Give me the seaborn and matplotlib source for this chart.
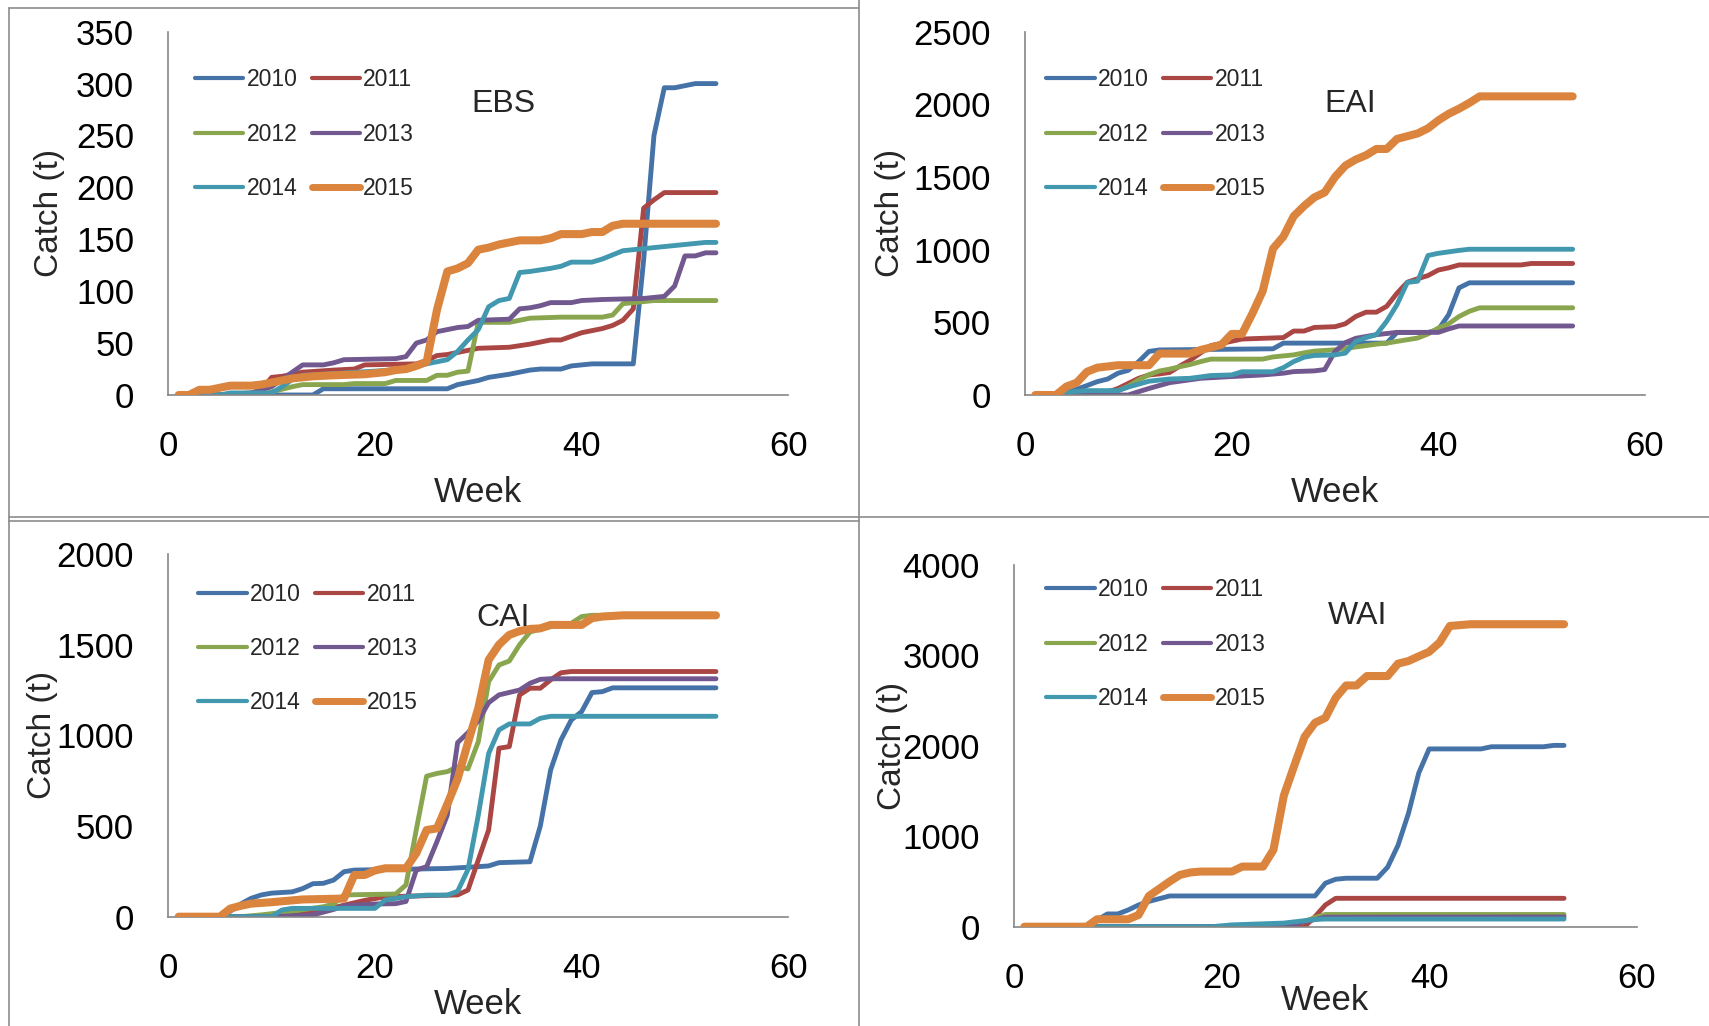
import matplotlib
matplotlib.use("Agg")
import matplotlib.pyplot as plt
import pandas as pd
import seaborn as sns
from matplotlib.lines import Line2D

# ---------------- data (week, cumulative catch in t) ----------------
YEARS = ["2010", "2011", "2012", "2013", "2014", "2015"]
COLORS = ["#4572A7", "#AA4643", "#89A54E", "#71588F", "#4198AF", "#DB843D"]

EBS_2010 = [(1, 0), (14, 0), (15, 6), (27, 6), (28, 10), (30, 14), (31, 17), (33, 20), (35, 24), (36, 25), (38, 25),
            (39, 28), (41, 30), (45, 30), (46, 130), (47, 250), (48, 296), (49, 296), (51, 300), (53, 300)]
EBS_2011 = [(1, 0), (8, 0), (9, 5), (10, 17), (11, 18), (13, 22), (16, 24), (18, 25), (19, 29), (24, 30), (25, 33),
            (26, 38), (27, 39), (28, 41), (30, 45), (33, 46), (35, 49), (37, 53), (38, 53), (40, 60), (42, 64),
            (43, 67), (44, 72), (45, 83), (46, 180), (47, 188), (48, 195), (53, 195)]
EBS_2012 = [(1, 0), (9, 0), (10, 3), (12, 8), (13, 10), (17, 10), (18, 11), (21, 11), (22, 14), (25, 14), (26, 19),
            (27, 19), (28, 22), (29, 23), (30, 70), (33, 70), (35, 74), (38, 75), (42, 75), (43, 77), (44, 88),
            (47, 91), (53, 91)]
EBS_2013 = [(1, 0), (5, 0), (8, 2), (10, 8), (11, 15), (12, 22), (13, 29), (15, 29), (16, 31), (17, 34), (22, 35),
            (23, 37), (24, 50), (25, 53), (26, 61), (27, 63), (28, 65), (29, 66), (30, 72), (33, 73), (34, 83),
            (35, 84), (36, 86), (37, 89), (39, 89), (40, 91), (42, 92), (46, 93), (48, 95), (49, 105), (50, 134),
            (51, 134), (52, 137), (53, 137)]
EBS_2014 = [(1, 0), (5, 0), (6, 2), (10, 2), (11, 8), (12, 15), (13, 19), (15, 20), (20, 23), (23, 25), (25, 30),
            (26, 32), (27, 34), (28, 42), (29, 53), (30, 63), (31, 85), (32, 91), (33, 93), (34, 118), (35, 119),
            (37, 122), (38, 124), (39, 128), (41, 128), (42, 131), (43, 135), (44, 139), (46, 141), (48, 143),
            (50, 145), (52, 147), (53, 147)]
EBS_2015 = [(1, 0), (2, 0), (3, 5), (4, 5), (5, 7), (6, 9), (8, 9), (9, 10), (10, 12), (11, 14), (12, 16), (14, 18),
            (16, 19), (19, 20), (21, 22), (22, 24), (23, 25), (24, 28), (25, 32), (26, 82), (27, 119), (28, 122),
            (29, 127), (30, 140), (31, 142), (32, 145), (33, 147), (34, 149), (36, 149), (37, 151), (38, 155),
            (40, 155), (41, 157), (42, 157), (43, 163), (44, 165), (53, 165)]

EAI_2010 = [(1, 0), (3, 0), (4, 15), (5, 39), (6, 65), (7, 92), (8, 110), (9, 150), (10, 170), (11, 230), (12, 300),
            (13, 310), (24, 318), (25, 357), (35, 357), (36, 430), (39, 430), (40, 450), (41, 553), (42, 737),
            (43, 772), (53, 772)]
EAI_2011 = [(1, 0), (7, 0), (8, 20), (9, 45), (10, 80), (11, 115), (12, 138), (13, 145), (14, 155), (15, 200),
            (16, 240), (17, 290), (18, 340), (19, 355), (20, 370), (21, 385), (25, 395), (26, 440), (27, 440),
            (28, 465), (30, 470), (31, 490), (32, 540), (33, 570), (34, 570), (35, 610), (36, 700), (37, 776),
            (38, 800), (39, 822), (40, 860), (41, 875), (42, 895), (48, 895), (49, 905), (53, 905)]
EAI_2012 = [(1, 0), (8, 0), (9, 30), (10, 60), (11, 104), (12, 140), (13, 165), (14, 178), (15, 195), (16, 210),
            (17, 230), (18, 247), (23, 247), (24, 262), (26, 276), (27, 290), (28, 302), (30, 311), (34, 350),
            (35, 357), (36, 369), (38, 392), (39, 420), (40, 461), (41, 490), (42, 540), (43, 576), (44, 600),
            (53, 600)]
EAI_2013 = [(1, 0), (10, 0), (11, 23), (12, 45), (13, 65), (14, 85), (15, 95), (17, 115), (20, 127), (23, 138),
            (25, 150), (26, 161), (28, 166), (29, 175), (30, 300), (31, 360), (32, 390), (34, 415), (36, 431),
            (40, 431), (41, 455), (42, 475), (53, 475)]
EAI_2014 = [(1, 0), (3, 0), (4, 16), (5, 25), (6, 30), (9, 30), (10, 55), (11, 75), (12, 95), (14, 110), (16, 115),
            (18, 134), (20, 138), (21, 160), (24, 160), (25, 188), (26, 230), (27, 260), (28, 272), (30, 276),
            (31, 288), (32, 368), (33, 395), (34, 415), (35, 507), (36, 622), (37, 775), (38, 783), (39, 960),
            (40, 975), (41, 985), (42, 995), (43, 1003), (53, 1003)]
EAI_2015 = [(1, 0), (3, 0), (4, 58), (5, 85), (6, 160), (7, 188), (9, 205), (12, 205), (13, 285), (16, 285),
            (17, 310), (19, 345), (20, 420), (21, 420), (22, 560), (23, 714), (24, 1007), (25, 1090), (26, 1230),
            (27, 1300), (28, 1360), (29, 1394), (30, 1500), (31, 1578), (32, 1620), (33, 1650), (34, 1693),
            (35, 1693), (36, 1762), (37, 1781), (38, 1800), (39, 1835), (40, 1890), (41, 1935), (42, 1970),
            (43, 2010), (44, 2055), (53, 2055)]

CAI_2010 = [(1, 0), (5, 0), (6, 30), (7, 70), (8, 101), (9, 120), (10, 130), (12, 137), (13, 155), (14, 182),
            (15, 184), (16, 202), (17, 248), (18, 257), (27, 266), (30, 276), (31, 280), (32, 298), (35, 303),
            (36, 500), (37, 809), (38, 975), (39, 1085), (40, 1131), (41, 1236), (42, 1241), (43, 1262), (53, 1262)]
CAI_2011 = [(1, 0), (10, 0), (13, 15), (16, 50), (19, 90), (21, 110), (28, 120), (29, 147), (30, 313), (31, 478),
            (32, 929), (33, 938), (34, 1223), (35, 1260), (36, 1260), (37, 1306), (38, 1345), (39, 1352),
            (53, 1352)]
CAI_2012 = [(1, 0), (7, 0), (9, 10), (12, 30), (15, 55), (16, 70), (17, 120), (22, 125), (23, 175), (24, 480),
            (25, 775), (26, 790), (27, 800), (28, 827), (29, 815), (30, 965), (31, 1296), (32, 1388), (33, 1410),
            (34, 1500), (35, 1570), (37, 1600), (39, 1618), (40, 1655), (41, 1662), (53, 1662)]
CAI_2013 = [(1, 0), (10, 0), (14, 10), (16, 40), (17, 60), (20, 70), (22, 72), (23, 84), (24, 257), (25, 276),
            (26, 414), (27, 560), (28, 960), (29, 1015), (30, 1080), (31, 1180), (32, 1223), (34, 1250), (35, 1287),
            (36, 1309), (37, 1312), (53, 1312)]
CAI_2014 = [(1, 0), (10, 0), (11, 37), (12, 46), (20, 46), (21, 92), (23, 110), (25, 119), (27, 119), (28, 140),
            (29, 260), (30, 560), (31, 900), (32, 1030), (33, 1063), (35, 1063), (36, 1094), (37, 1105), (53, 1105)]
CAI_2015 = [(1, 0), (5, 0), (6, 45), (7, 60), (8, 72), (10, 80), (13, 95), (17, 100), (18, 230), (19, 230),
            (20, 255), (21, 267), (23, 267), (24, 350), (25, 478), (26, 487), (27, 620), (28, 760), (29, 960),
            (30, 1150), (31, 1416), (32, 1500), (33, 1554), (34, 1575), (35, 1587), (36, 1590), (37, 1609),
            (40, 1609), (41, 1646), (42, 1655), (44, 1662), (53, 1662)]

WAI_2010 = [(1, 0), (7, 0), (8, 74), (9, 141), (10, 141), (11, 185), (12, 240), (13, 280), (14, 310), (15, 340),
            (29, 340), (30, 481), (31, 525), (32, 536), (35, 536), (36, 658), (37, 900), (38, 1250), (39, 1700),
            (40, 1966), (45, 1966), (46, 1990), (51, 1990), (52, 2005), (53, 2005)]
WAI_2011 = [(1, 0), (28, 0), (29, 111), (30, 240), (31, 314), (53, 314)]
WAI_2012 = [(1, 0), (22, 0), (26, 20), (28, 60), (29, 100), (30, 135), (53, 135)]
WAI_2013 = [(1, 0), (20, 0), (24, 10), (27, 30), (29, 80), (30, 105), (53, 108)]
WAI_2014 = [(1, 0), (19, 0), (21, 20), (26, 40), (29, 80), (30, 85), (53, 85)]
WAI_2015 = [(1, 0), (7, 0), (8, 82), (11, 82), (12, 130), (13, 340), (14, 420), (15, 500), (16, 573), (17, 600),
            (18, 610), (21, 610), (22, 665), (24, 665), (25, 850), (26, 1450), (27, 1780), (28, 2100), (29, 2255),
            (30, 2310), (31, 2532), (32, 2668), (33, 2668), (34, 2772), (36, 2772), (37, 2909), (38, 2938),
            (39, 2990), (40, 3040), (41, 3142), (42, 3326), (44, 3345), (53, 3345)]

REGIONS = ["EBS", "EAI", "CAI", "WAI"]
SERIES = {
    "EBS": [EBS_2010, EBS_2011, EBS_2012, EBS_2013, EBS_2014, EBS_2015],
    "EAI": [EAI_2010, EAI_2011, EAI_2012, EAI_2013, EAI_2014, EAI_2015],
    "CAI": [CAI_2010, CAI_2011, CAI_2012, CAI_2013, CAI_2014, CAI_2015],
    "WAI": [WAI_2010, WAI_2011, WAI_2012, WAI_2013, WAI_2014, WAI_2015],
}
YMAX = {"EBS": 350, "EAI": 2500, "CAI": 2000, "WAI": 4000}
YSTEP = {"EBS": 50, "EAI": 500, "CAI": 500, "WAI": 1000}
X_TICKS = [0, 20, 40, 60]

# ---------------- layout (pixels of a 1709x1026 canvas) ----------------
W, H = 1709, 1026
AX_PX = {  # x_left, x_right, y_bottom, y_top
    "EBS": (168.3, 788.3, 395.0, 31.7),
    "EAI": (1025.0, 1645.0, 395.0, 31.7),
    "CAI": (168.3, 788.3, 916.7, 554.0),
    "WAI": (1014.0, 1636.7, 926.7, 565.0),
}
TITLE_POS = {"EBS": (0.54, 0.80), "EAI": (0.525, 0.80), "CAI": (0.54, 0.823), "WAI": (0.552, 0.86)}
YLAB_X = {"EBS": -0.191, "EAI": -0.217, "CAI": -0.203, "WAI": -0.195}
XLAB_Y = {"EBS": -0.268, "EAI": -0.268, "CAI": -0.243, "WAI": -0.205}
LEG_PX = {"EBS": (195, 68.5), "EAI": (1046.4, 68.5), "CAI": (198.4, 583.0), "WAI": (1046.4, 578.5)}

GRAY = "#868686"
sns.set_theme(style="white")
plt.rcParams["font.family"] = ["Liberation Sans", "DejaVu Sans"]

fig = plt.figure(figsize=(W / 100, H / 100), dpi=100)

for reg in REGIONS:
    xl, xr, yb, yt = AX_PX[reg]
    ax = fig.add_axes([xl / W, 1 - yb / H, (xr - xl) / W, (yb - yt) / H])
    frames = []
    for yr, pts in zip(YEARS, SERIES[reg]):
        frames.append(pd.DataFrame({"week": [p[0] for p in pts], "catch": [p[1] for p in pts], "year": yr}))
    df = pd.concat(frames, ignore_index=True)
    for yr, col in zip(YEARS, COLORS):
        lw = 5.8 if yr == "2015" else 3.5
        sns.lineplot(data=df[df["year"] == yr], x="week", y="catch", color=col, lw=lw, ax=ax,
                     estimator=None, sort=False, legend=False,
                     solid_capstyle="round", solid_joinstyle="round", zorder=3 if yr == "2015" else 2)
    ax.set_xlim(0, 60)
    ax.set_ylim(0, YMAX[reg])
    ax.set_xticks(X_TICKS)
    ax.set_yticks(list(range(0, YMAX[reg] + 1, YSTEP[reg])))
    for s in ["top", "right"]:
        ax.spines[s].set_visible(False)
    for s in ["left", "bottom"]:
        ax.spines[s].set_color(GRAY)
        ax.spines[s].set_linewidth(1.2)
    ax.tick_params(axis="both", direction="out", length=8.6, width=1.2, color=GRAY,
                   labelsize=25, labelcolor="black")
    ax.tick_params(axis="x", pad=16.5)
    ax.tick_params(axis="y", pad=16)
    ax.set_xlabel("Week", fontsize=25, va="center")
    ax.set_ylabel("Catch (t)", fontsize=24, va="center")
    ax.xaxis.set_label_coords(0.5, XLAB_Y[reg])
    ax.yaxis.set_label_coords(YLAB_X[reg], 0.5)
    ax.text(*TITLE_POS[reg], reg, transform=ax.transAxes, fontsize=23, ha="center", va="center")
    ax.patch.set_alpha(0)

    handles = [Line2D([0], [0], color=c, lw=(5 if y == "2015" else 3), solid_capstyle="round")
               for y, c in zip(YEARS, COLORS)]
    order = [0, 2, 4, 1, 3, 5]
    lx, ly = LEG_PX[reg]
    ax.legend([handles[i] for i in order], [YEARS[i] for i in order], ncol=2, frameon=False,
              loc="upper left", bbox_to_anchor=(lx / W, 1 - ly / H), bbox_transform=fig.transFigure,
              borderpad=0, borderaxespad=0, fontsize=16.5, handlelength=2.1, handletextpad=0.15,
              columnspacing=0.62, labelspacing=1.36)

# panel frame lines
def fline(x1, y1, x2, y2):
    fig.add_artist(Line2D([x1 / W, x2 / W], [1 - y1 / H, 1 - y2 / H], transform=fig.transFigure,
                          color="#8C8C8C", lw=1.2))

fline(9, 8, 859, 8)
fline(9, 8, 9, H)
fline(859, 0, 859, H)
fline(9, 517, W, 517)
fline(9, 521, 859, 521)

fig.savefig("out.png", dpi=100)
